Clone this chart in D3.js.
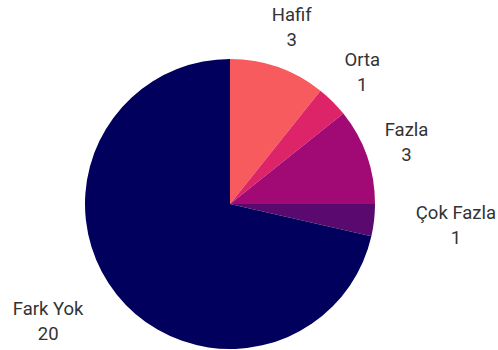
<!DOCTYPE html>
<html>
<head>
<meta charset="utf-8">
<script src="https://cdn.jsdelivr.net/npm/d3@7"></script>
<style>
  html, body { margin: 0; padding: 0; background: #fff; }
  svg { display: block; }
  text { font-family: Roboto, "Noto Sans", sans-serif; }
</style>
</head>
<body>
<svg id="chart" width="498" height="350"></svg>
<script>
// Response categories, counts and slice colours
const categories = ["Hafif", "Orta", "Fazla", "Çok Fazla", "Fark Yok"];
const counts = [3, 1, 3, 1, 20];
const colors = ["#f85b5e", "#de2468", "#a10a74", "#5a0a6e", "#01005c"];

const width = 498, height = 350;
const cx = 230, cy = 204, radius = 145;
const labelRadius = 187;
const lineGap = 25;

const data = categories.map((name, i) => ({ name, value: counts[i], color: colors[i] }));

const svg = d3.select("#chart");
const g = svg.append("g").attr("transform", `translate(${cx},${cy})`);

const pie = d3.pie().value(d => d.value).sort(null);
const arc = d3.arc().innerRadius(0).outerRadius(radius);
const arcs = pie(data);

g.selectAll("path.slice")
  .data(arcs)
  .join("path")
  .attr("class", "slice")
  .attr("d", arc)
  .attr("fill", d => d.data.color);

// Two-line labels on each slice's mid-angle; lower-half labels hang off to the side
const labels = g.selectAll("g.label")
  .data(arcs)
  .join("g")
  .attr("class", "label");

labels.each(function(d) {
  const a = (d.startAngle + d.endAngle) / 2;
  const t = d3.select(this).append("text")
    .attr("text-anchor", "middle")
    .attr("fill", "#333")
    .attr("font-size", 18.5);
  t.append("tspan").attr("x", 0).attr("y", -lineGap / 2).attr("dy", "0.35em").text(d.data.name);
  t.append("tspan").attr("x", 0).attr("y", lineGap / 2).attr("dy", "0.35em").text(d.data.value);
  const w = t.node().getBBox().width;
  let x = labelRadius * Math.sin(a);
  const y = -labelRadius * Math.cos(a);
  if (Math.cos(a) < 0) x += (Math.sin(a) > 0 ? 1 : -1) * w / 2;
  d3.select(this).attr("transform", `translate(${x},${y})`);
});
</script>
</body>
</html>
